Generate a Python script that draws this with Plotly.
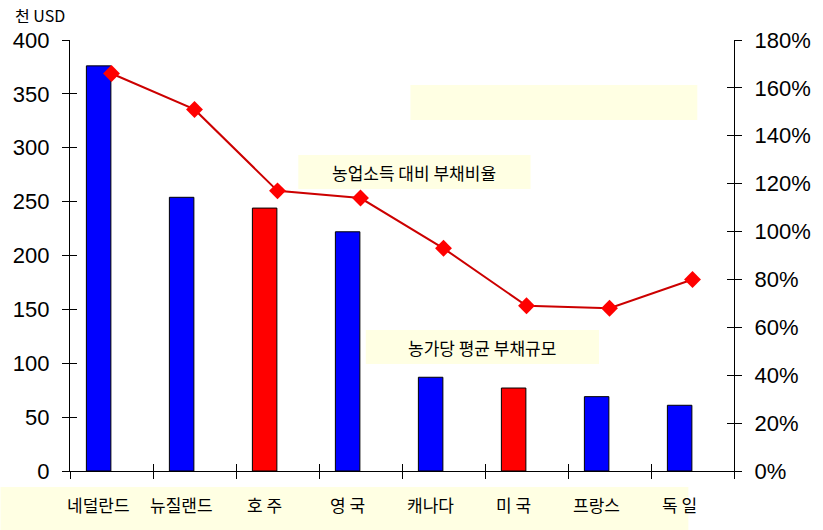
import plotly.graph_objects as go

categories = ["네덜란드", "뉴질랜드", "호 주", "영 국", "캐나다", "미 국", "프랑스", "독 일"]
debt_per_farm = [376, 254, 244, 222, 87, 77, 69, 61]          # 천 USD
debt_ratio = [166, 151, 117, 114, 93, 69, 68, 80]            # %
bar_colors = ["#0000FF", "#0000FF", "#FF0000", "#0000FF", "#0000FF", "#FF0000", "#0000FF", "#0000FF"]
left_ticks = list(range(0, 401, 50))
right_ticks = list(range(0, 181, 20))
right_labels = [f"{v}%" for v in right_ticks]

W_FIG, H_FIG = 823, 530
L, R, T, B = 70, 84, 40, 59
PW, PH = W_FIG - L - R, H_FIG - T - B

def px(x):
    return (x - L) / PW

def py(y):
    return (T + PH - y) / PH

n = len(categories)
xs = list(range(n))
bar_off = -0.155
bar_x = [i + bar_off for i in xs]

fig = go.Figure()
fig.add_trace(go.Bar(
    x=bar_x, y=debt_per_farm, width=0.295,
    marker=dict(color=bar_colors, line=dict(color="#000000", width=1)),
    xaxis="x", yaxis="y", showlegend=False,
))
fig.add_trace(go.Scatter(
    x=xs, y=debt_ratio, mode="lines+markers",
    line=dict(color="#CC0000", width=2),
    marker=dict(symbol="diamond", size=13, color="#FF0000"),
    xaxis="x", yaxis="y2", showlegend=False,
))
# invisible traces so that the overlay (inside-tick) axes are drawn
fig.add_trace(go.Scatter(x=[0], y=[0], mode="markers", marker=dict(opacity=0),
                         hoverinfo="skip", xaxis="x2", yaxis="y3", showlegend=False))
fig.add_trace(go.Scatter(x=[0], y=[0], mode="markers", marker=dict(opacity=0),
                         hoverinfo="skip", xaxis="x", yaxis="y4", showlegend=False))

tick_font = dict(family="Liberation Sans, Arial, sans-serif", size=22, color="#000000")
kr_font = "Noto Sans CJK KR, sans-serif"
bounds = [i - 0.5 for i in range(n + 1)]

fig.update_layout(
    width=W_FIG, height=H_FIG,
    margin=dict(l=L, r=R, t=T, b=B, pad=0),
    plot_bgcolor="rgba(0,0,0,0)", paper_bgcolor="#FFFFFF",
    bargap=0,
    xaxis=dict(range=[-0.5, n - 0.5], tickvals=bounds, ticktext=[""] * len(bounds),
               ticks="outside", ticklen=7, tickcolor="#000", tickwidth=1,
               showline=True, linecolor="#000", linewidth=1.2, showgrid=False,
               zeroline=False, fixedrange=True),
    xaxis2=dict(range=[-0.5, n - 0.5], overlaying="x", tickvals=bounds[1:-1],
                ticktext=[""] * (len(bounds) - 2), ticks="inside", ticklen=7,
                tickcolor="#000", showline=False, showgrid=False, zeroline=False,
                side="bottom", anchor="y"),
    yaxis=dict(range=[0, 400], tickvals=left_ticks, ticks="outside", ticklen=7,
               tickcolor="#000", showline=True, linecolor="#000", linewidth=1.2,
               showgrid=False, zeroline=False, tickfont=tick_font,
               ticklabelstandoff=8),
    yaxis2=dict(range=[0, 180], tickvals=right_ticks, ticktext=right_labels,
                overlaying="y", side="right", ticks="outside", ticklen=7,
                tickcolor="#000", showline=True, linecolor="#000", linewidth=1.2,
                showgrid=False, zeroline=False, tickfont=tick_font,
                ticklabelstandoff=8),
    yaxis3=dict(range=[0, 400], tickvals=left_ticks[1:], ticktext=[""] * (len(left_ticks) - 1),
                overlaying="y", side="left", ticks="inside", ticklen=7, anchor="x2",
                tickcolor="#000", showline=False, showgrid=False, zeroline=False),
    yaxis4=dict(range=[0, 180], tickvals=right_ticks[1:], ticktext=[""] * (len(right_ticks) - 1),
                overlaying="y", side="right", ticks="inside", ticklen=7,
                tickcolor="#000", showline=False, showgrid=False, zeroline=False),
)

box_color = "#FFFFE3"
shapes = [
    dict(type="rect", xref="paper", yref="paper", x0=px(0), x1=px(693), y0=py(530), y1=py(487),
         fillcolor=box_color, line=dict(width=0), layer="below"),
    dict(type="rect", xref="paper", yref="paper", x0=px(413), x1=px(702), y0=py(120), y1=py(85),
         fillcolor=box_color, line=dict(width=0), layer="below"),
    dict(type="rect", xref="paper", yref="paper", x0=px(300), x1=px(534), y0=py(189), y1=py(155),
         fillcolor=box_color, line=dict(width=0), layer="below"),
    dict(type="rect", xref="paper", yref="paper", x0=px(368), x1=px(603), y0=py(364), y1=py(330),
         fillcolor=box_color, line=dict(width=0), layer="below"),
]
fig.update_layout(shapes=shapes)

def ann(text, x, y, size, xref="paper"):
    return dict(text=text, xref=xref, yref="paper", x=x, y=y, xanchor="center",
                yanchor="middle", showarrow=False,
                font=dict(family=kr_font, size=size, color="#000"))

annotations = [
    ann("농업소득 대비 부채비율", px(417), py(172), 17),
    ann("농가당 평균 부채규모", px(485), py(347), 17),
    ann("천 USD", px(40), py(15), 16),
]
for xv, lab in zip(bar_x, categories):
    annotations.append(ann(lab, xv, py(505), 17, xref="x"))
fig.update_layout(annotations=annotations)

fig.write_html("out.html", config={"displayModeBar": False, "staticPlot": True})

with open("out.html", "r", encoding="utf-8") as f:
    html = f.read()
html = html.replace("<head>", "<head><style>html,body{margin:0;padding:0;overflow:hidden;}</style>", 1)
with open("out.html", "w", encoding="utf-8") as f:
    f.write(html)
